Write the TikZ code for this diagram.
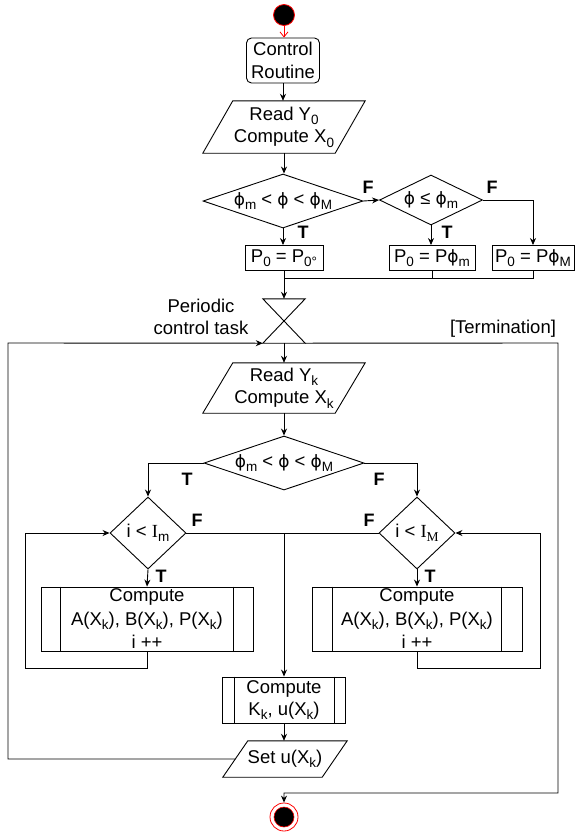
\documentclass[tikz,border=0pt]{standalone}
\usepackage{fontspec}
\setmainfont{Liberation Sans}
\newfontfamily\seriffont{Liberation Serif}
\newfontfamily\dvs{DejaVu Sans}
\usetikzlibrary{shapes.geometric,arrows.meta}
\newcommand\sbs[1]{\raisebox{-0.45ex}{\fontsize{13.5}{13.5}\selectfont #1}}
\newcommand\ph{{\dvs\fontsize{17}{17}\selectfont ϕ}}
\newcommand\paral[2]{\draw[line] ([xshift=#2]#1.north west) -- ([xshift=#2]#1.north east) -- ([xshift=-#2]#1.south east) -- ([xshift=-#2]#1.south west) -- cycle;}
\newcommand\subrlines[2]{\draw[line] ([xshift=#2]#1.north west) -- ([xshift=#2]#1.south west); \draw[line] ([xshift=-#2]#1.north east) -- ([xshift=-#2]#1.south east);}
\begin{document}
\begin{tikzpicture}[x=1pt,y=-1pt,
  every node/.style={font=\fontsize{18.5}{22.5}\selectfont, align=center, inner sep=0pt},
  line/.style={draw=black, line width=0.9pt},
  arr/.style={line, -{Stealth[length=7pt,width=6pt]}},
  lbl/.style={font=\fontsize{18}{20}\selectfont\bfseries},
  proc/.style={draw, line width=0.9pt, rounded corners=5pt},
  plainbox/.style={draw, line width=0.9pt, minimum height=25pt},
  dec/.style={draw, line width=0.9pt, diamond},
  subr/.style={draw, line width=0.9pt},
  widesub/.style={subr, font=\fontsize{18.5}{23.5}\selectfont},
  iobox/.style={}
]
\useasboundingbox (0,0) rectangle (576,836);

% start
\node[circle, fill=black, draw=red, line width=0.8pt, minimum size=21pt] (start) at (284,15) {};
\node[proc, minimum width=73pt, minimum height=45pt] (cr) at (283,60.5) {Control\\Routine};
\draw[red, line width=0.8pt, -{Straight Barb[length=5pt,width=8pt]}] (start.south) -- (start.south |- cr.north);

% read Y0
\node[iobox, minimum width=132pt, minimum height=52pt] (y0) at (284,127) {Read Y\sbs{0}\\Compute X\sbs{0}};
\paral{y0}{15pt}
\draw[arr] (cr.south) -- (cr.south |- y0.north);

% first decisions
\node[dec, shape aspect=3.2, minimum width=160pt, minimum height=54pt] (d1) at (283,201) {\ph\sbs{m} < \ph{} < \ph\sbs{M}};
\node[dec, shape aspect=2, minimum width=103pt, minimum height=50pt] (d2) at (431,200) {\ph{} ≤ \ph\sbs{m}};
\draw[arr] (y0.south) -- (y0.south |- d1.north);
\draw[arr] (d1.east) -- (d2.west);
\node[lbl] (f1) at (368,187) {F};
\node[lbl] (f2) at (492,187) {F};
\node[lbl] (t1) at (303,232) {T};
\node[lbl] (t2) at (447,232) {T};

\node[plainbox, minimum width=78pt] (b1) at (284,258) {P\sbs{0} = P\sbs{0°}};
\node[plainbox, minimum width=86pt] (b2) at (432,258) {P\sbs{0} = P\ph\sbs{m}};
\node[plainbox, minimum width=82pt] (b3) at (533,258) {P\sbs{0} = P\ph\sbs{M}};
\draw[arr] (d1.south) -- (d1.south |- b1.north);
\draw[arr] (d2.south) -- (d2.south |- b2.north);
\draw[arr] (d2.east) -| (b3.north);

\coordinate (m1) at (284,278);
\draw[line] (b3.south) |- (m1);
\draw[line] (b2.south) -- (b2.south |- m1);

% periodic task
\node[minimum width=42pt, minimum height=44pt] (pct) at (284,321) {};
\draw[line] (pct.north west) -- (pct.north east) -- (pct.south west) -- (pct.south east) -- cycle;
\draw[arr] (b1.south) -- (pct.north);
\node (pctl) at (201,317) {Periodic\\control task};
\node (term) at (503,329) {[Termination]};

% read Yk
\node[iobox, minimum width=132pt, minimum height=50pt] (yk) at (284,388) {Read Y\sbs{k}\\Compute X\sbs{k}};
\paral{yk}{15pt}
\draw[arr] (pct.south) -- (yk.north);

% decision 3
\node[dec, shape aspect=3.2, minimum width=160pt, minimum height=54pt] (d3) at (284,463) {\ph\sbs{m} < \ph{} < \ph\sbs{M}};
\draw[arr] (yk.south) -- (d3.north);
\node[dec, shape aspect=1, minimum width=76pt, minimum height=72pt] (d4) at (148,533) {i < {\seriffont I}\sbs{m}};
\node[dec, shape aspect=1, minimum width=76pt, minimum height=72pt] (d5) at (417,533) {i < {\seriffont I\sbs{M}}};
\draw[arr] (d3.west) -| (d4.north);
\draw[arr] (d3.east) -| (d5.north);
\node[lbl] (t3) at (187,479) {T};
\node[lbl] (f3) at (379,479) {F};
\node[lbl] (f4) at (197,520) {F};
\node[lbl] (f5) at (369,520) {F};

% compute boxes
\node[widesub, minimum width=212pt, minimum height=64pt] (c1) at (147,619) {Compute\\A(X\sbs{k}), B(X\sbs{k}), P(X\sbs{k})\\i ++};
\subrlines{c1}{20pt}
\node[widesub, minimum width=210pt, minimum height=64pt] (c2) at (417,619) {Compute\\A(X\sbs{k}), B(X\sbs{k}), P(X\sbs{k})\\i ++};
\subrlines{c2}{21pt}
\draw[arr] (d4.south) -- (c1.north);
\draw[arr] (d5.south) -- (c2.north);
\node[lbl] (t4) at (161,576) {T};
\node[lbl] (t5) at (430,576) {T};

\coordinate (lb) at (25,668);
\coordinate (rb) at (540,668);
\draw[arr] (c1.south) |- (lb) |- (d4.west);
\draw[arr] (c2.south) |- (rb) |- (d5.east);

\node[subr, minimum width=123pt, minimum height=46pt] (kk) at (284,700) {Compute\\K\sbs{k}, u(X\sbs{k})};
\subrlines{kk}{12pt}
\coordinate (mj) at (284,533);
\draw[line] (d4.east) -- (mj);
\draw[line] (d5.west) -- (mj);
\draw[arr] (mj) -- (kk.north);

% set u
\node[iobox, minimum width=99pt, minimum height=36pt] (su) at (285,759) {Set u(X\sbs{k})};
\paral{su}{12.5pt}
\draw[arr] (kk.south) -- (kk.south |- su.north);

% loop back
\coordinate (ll) at (8,343);
\draw[arr] (su.west) -| (ll) -- (pct.south west);

% end
\node[circle, draw=red, line width=0.8pt, minimum size=28pt] (fin) at (284,817) {};
\node[circle, fill=black, draw=red, line width=0.6pt, minimum size=20pt] (finin) at (fin) {};
\coordinate (tr) at (558,343);
\coordinate (tb) at (558,793);
\draw[arr] (pct.south east) -- (tr) -- (tb) -| (fin.north);
\end{tikzpicture}
\end{document}
